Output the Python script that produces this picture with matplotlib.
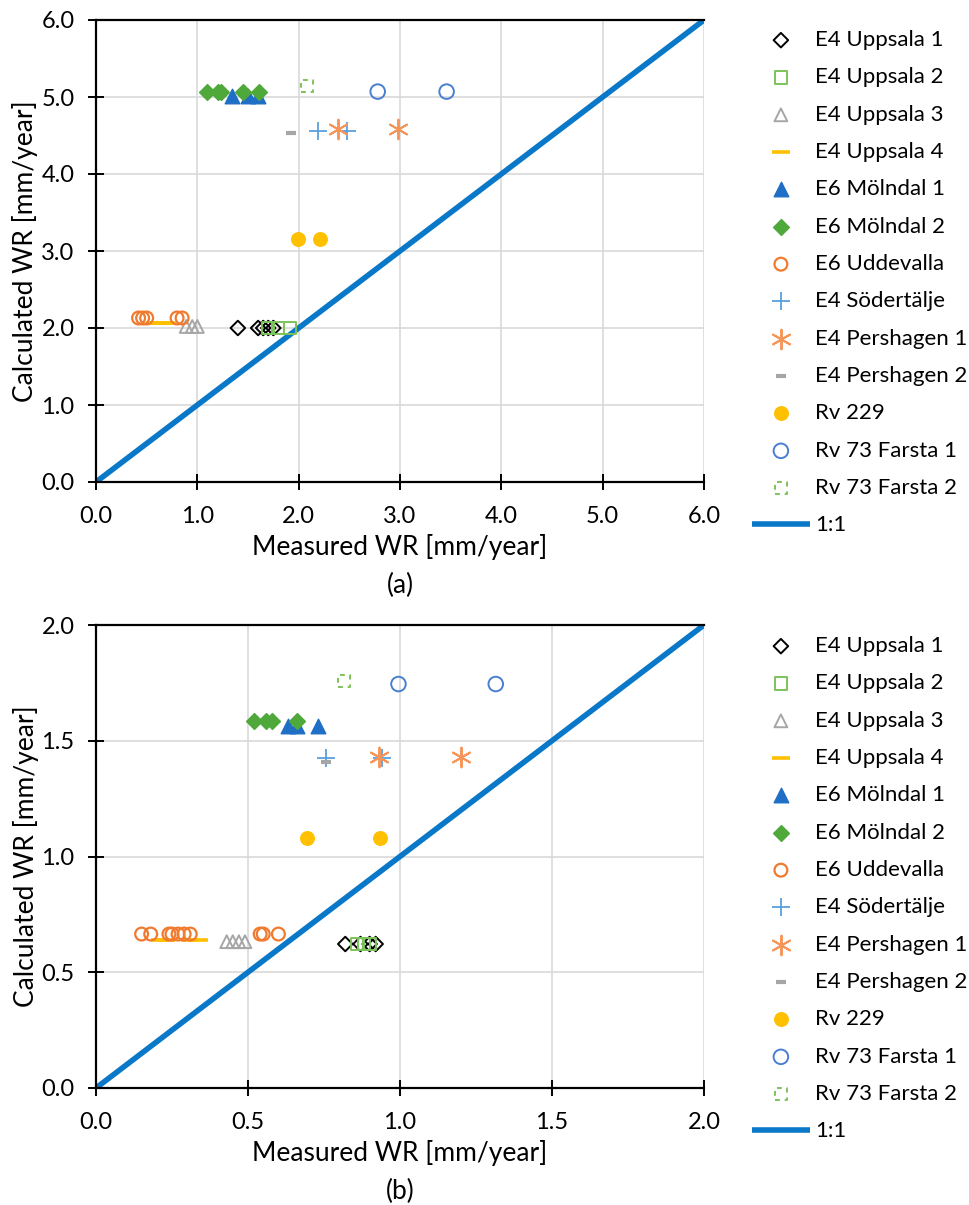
import numpy as np
import matplotlib
matplotlib.use('Agg')
import matplotlib.pyplot as plt

plt.rcParams['font.family'] = ['Lato', 'DejaVu Sans']

series_names = ['E4 Uppsala 1', 'E4 Uppsala 2', 'E4 Uppsala 3', 'E4 Uppsala 4',
                'E6 Mölndal 1', 'E6 Mölndal 2', 'E6 Uddevalla', 'E4 Södertälje',
                'E4 Pershagen 1', 'E4 Pershagen 2', 'Rv 229', 'Rv 73 Farsta 1',
                'Rv 73 Farsta 2']

# panel (a) measured / calculated, one pair of lists per site
a_upp1_x = [1.40, 1.60, 1.65, 1.70, 1.75]
a_upp1_y = [2.00, 2.00, 2.00, 2.00, 2.00]
a_upp2_x = [1.70, 1.80, 1.91]
a_upp2_y = [2.00, 2.00, 2.00]
a_upp3_x = [0.89, 0.95, 1.00]
a_upp3_y = [2.02, 2.02, 2.02]
a_upp4_x = [0.58, 0.62, 0.66, 0.70]
a_upp4_y = [2.06, 2.06, 2.06, 2.06]
a_mol1_x = [1.34, 1.50, 1.60]
a_mol1_y = [5.01, 5.01, 5.01]
a_mol2_x = [1.10, 1.20, 1.23, 1.45, 1.61]
a_mol2_y = [5.06, 5.06, 5.06, 5.06, 5.06]
a_udd_x = [0.42, 0.46, 0.50, 0.80, 0.85]
a_udd_y = [2.13, 2.13, 2.13, 2.13, 2.13]
a_sod_x = [2.19, 2.48]
a_sod_y = [4.56, 4.56]
a_per1_x = [2.39, 2.98]
a_per1_y = [4.58, 4.58]
a_per2_x = [1.92]
a_per2_y = [4.53]
a_rv229_x = [1.99, 2.21]
a_rv229_y = [3.15, 3.15]
a_far1_x = [2.78, 3.46]
a_far1_y = [5.07, 5.07]
a_far2_x = [2.08]
a_far2_y = [5.14]

# panel (b)
b_upp1_x = [0.82, 0.87, 0.90, 0.92]
b_upp1_y = [0.622, 0.622, 0.622, 0.622]
b_upp2_x = [0.86, 0.88, 0.90]
b_upp2_y = [0.622, 0.622, 0.622]
b_upp3_x = [0.43, 0.45, 0.47, 0.49]
b_upp3_y = [0.632, 0.632, 0.632, 0.632]
b_upp4_x = [0.21, 0.23, 0.31, 0.34]
b_upp4_y = [0.64, 0.64, 0.64, 0.64]
b_mol1_x = [0.63, 0.66, 0.73]
b_mol1_y = [1.565, 1.565, 1.565]
b_mol2_x = [0.52, 0.56, 0.58, 0.66]
b_mol2_y = [1.585, 1.585, 1.585, 1.585]
b_udd_x = [0.15, 0.18, 0.24, 0.25, 0.27, 0.29, 0.31, 0.54, 0.55, 0.60]
b_udd_y = [0.665] * 10
b_sod_x = [0.757, 0.94]
b_sod_y = [1.425, 1.425]
b_per1_x = [0.93, 1.20]
b_per1_y = [1.43, 1.43]
b_per2_x = [0.757]
b_per2_y = [1.41]
b_rv229_x = [0.694, 0.934]
b_rv229_y = [1.08, 1.08]
b_far1_x = [0.995, 1.315]
b_far1_y = [1.745, 1.745]
b_far2_x = [0.815]
b_far2_y = [1.76]

panel_a = [(a_upp1_x, a_upp1_y), (a_upp2_x, a_upp2_y), (a_upp3_x, a_upp3_y),
           (a_upp4_x, a_upp4_y), (a_mol1_x, a_mol1_y), (a_mol2_x, a_mol2_y),
           (a_udd_x, a_udd_y), (a_sod_x, a_sod_y), (a_per1_x, a_per1_y),
           (a_per2_x, a_per2_y), (a_rv229_x, a_rv229_y), (a_far1_x, a_far1_y),
           (a_far2_x, a_far2_y)]
panel_b = [(b_upp1_x, b_upp1_y), (b_upp2_x, b_upp2_y), (b_upp3_x, b_upp3_y),
           (b_upp4_x, b_upp4_y), (b_mol1_x, b_mol1_y), (b_mol2_x, b_mol2_y),
           (b_udd_x, b_udd_y), (b_sod_x, b_sod_y), (b_per1_x, b_per1_y),
           (b_per2_x, b_per2_y), (b_rv229_x, b_rv229_y), (b_far1_x, b_far1_y),
           (b_far2_x, b_far2_y)]

# excel-ish styles: marker, size, face, edge, edge width
styles = [
    dict(marker='D', s=55, fc='none', ec='black', lw=1.4),
    dict(marker='s', s=75, fc='none', ec='#7cc35a', lw=1.4),
    dict(marker='^', s=85, fc='none', ec='#a6a6a6', lw=1.4),
    dict(marker='_', s=170, fc='#ffc000', ec='#ffc000', lw=2.6),
    dict(marker='^', s=110, fc='#1f6fc6', ec='#1f6fc6', lw=1.0),
    dict(marker='D', s=65, fc='#4ea83a', ec='#4ea83a', lw=1.0),
    dict(marker='o', s=85, fc='none', ec='#f07a2e', lw=1.6),
    dict(marker='+', s=170, fc='#5aa0dd', ec='#5aa0dd', lw=1.3),
    dict(marker=(6, 2, 0), s=200, fc='#f6955a', ec='#f6955a', lw=1.4),
    dict(marker='_', s=50, fc='#a6a6a6', ec='#a6a6a6', lw=3.0),
    dict(marker='o', s=95, fc='#ffc000', ec='#ffc000', lw=1.0),
    dict(marker='o', s=110, fc='none', ec='#4a7fd0', lw=1.4),
    dict(marker='s', s=75, fc='none', ec='#7cc35a', lw=1.4, ls=(0, (2.5, 2.5))),
]

fig = plt.figure(figsize=(9.7, 12.05), dpi=100)
ax_a = fig.add_axes([96 / 970, 1 - 482 / 1205, 608 / 970, 462 / 1205])
ax_b = fig.add_axes([96 / 970, 1 - 1088 / 1205, 608 / 970, 463 / 1205])


def draw_panel(ax, data, lim, step, tag, legend_top):
    for name, (xs, ys), st in zip(series_names, data, styles):
        kw = dict(marker=st['marker'], s=st['s'], facecolors=st['fc'],
                  edgecolors=st['ec'], linewidths=st['lw'], label=name, zorder=3)
        if 'ls' in st:
            kw['linestyles'] = [st['ls']]
        ax.scatter(xs, ys, **kw)
    ax.plot([0, lim], [0, lim], color='#0a78c8', lw=4, label='1:1', zorder=2,
            solid_capstyle='butt')

    ticks = np.arange(0, lim + step / 2, step)
    ax.set_xlim(0, lim)
    ax.set_ylim(0, lim)
    ax.set_xticks(ticks)
    ax.set_yticks(ticks)
    ax.set_xticklabels([f'{t:.1f}' for t in ticks])
    ax.set_yticklabels([f'{t:.1f}' for t in ticks])
    ax.tick_params(direction='inout', length=11, width=1.4, labelsize=17,
                   colors='black')
    ax.tick_params(axis='x', pad=12)
    ax.tick_params(axis='y', pad=10)
    ax.grid(True, color='#d9d9d9', lw=1.2, zorder=0)
    ax.set_axisbelow(True)
    for side in ('left', 'bottom', 'top'):
        ax.spines[side].set_linewidth(1.6)
        ax.spines[side].set_color('black')
    ax.spines['right'].set_visible(False)

    ax.set_xlabel('Measured WR [mm/year]', fontsize=19, labelpad=5)
    ax.set_ylabel('Calculated WR [mm/year]', fontsize=19, labelpad=2)
    ax.text(0.5, -0.223, tag, transform=ax.transAxes, ha='center', va='center',
            fontsize=19)

    ax.legend(loc='upper left', bbox_to_anchor=(752 / 970, legend_top),
              bbox_transform=fig.transFigure, frameon=False, fontsize=16,
              borderpad=0, borderaxespad=0, handlelength=2.6, handletextpad=0.25,
              labelspacing=0.78, scatterpoints=1)


draw_panel(ax_a, panel_a, 6.0, 1.0, '(a)', 1 - 30 / 1205)
draw_panel(ax_b, panel_b, 2.0, 0.5, '(b)', 1 - 636 / 1205)

fig.savefig('out.png', dpi=100)
